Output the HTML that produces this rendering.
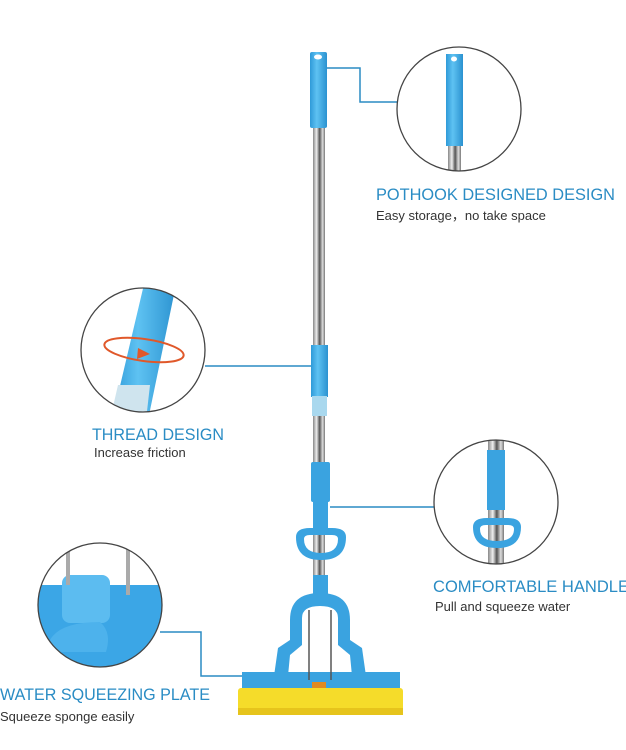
<!DOCTYPE html>
<html><head><meta charset="utf-8"><style>
html,body{margin:0;padding:0;background:#fff;}
svg{display:block;}
.t{font-family:"Liberation Sans",sans-serif;fill:#2a8cc4;font-size:17px;}
.s{font-family:"Liberation Sans",sans-serif;fill:#333;font-size:13px;}
</style></head><body>
<svg width="626" height="750" viewBox="0 0 626 750" xmlns="http://www.w3.org/2000/svg">
<defs>
<linearGradient id="steel" x1="0" x2="1" y1="0" y2="0">
<stop offset="0" stop-color="#888"/><stop offset="0.3" stop-color="#eee"/><stop offset="0.55" stop-color="#555"/><stop offset="0.8" stop-color="#ddd"/><stop offset="1" stop-color="#777"/>
</linearGradient>
<linearGradient id="blue" x1="0" x2="1"><stop offset="0" stop-color="#2f9ad8"/><stop offset="0.4" stop-color="#5ec2f2"/><stop offset="1" stop-color="#2b92d0"/></linearGradient>
<clipPath id="c1"><circle cx="459" cy="109" r="62"/></clipPath>
<clipPath id="c2"><circle cx="143" cy="350" r="62"/></clipPath>
<clipPath id="c3"><circle cx="496" cy="502" r="62"/></clipPath>
<clipPath id="c4"><circle cx="100" cy="605" r="62"/></clipPath>
</defs>
<g stroke="#2a8cc4" stroke-width="1.5" fill="none">
<polyline points="327,68 360,68 360,102 397,102"/>
<line x1="205" y1="366" x2="313" y2="366"/>
<line x1="330" y1="507" x2="434" y2="507"/>
<polyline points="160,632 201,632 201,676 242,676"/>
</g>
<rect x="313" y="120" width="12" height="470" fill="url(#steel)"/>
<rect x="310" y="52" width="17" height="76" rx="2" fill="url(#blue)"/>
<ellipse cx="318" cy="57" rx="4" ry="2.5" fill="#fff"/>
<rect x="311" y="345" width="17" height="52" fill="url(#blue)"/>
<rect x="312" y="396" width="15" height="20" fill="#a9d8ee"/>
<g fill="#3aa3e0">
<rect x="311" y="462" width="19" height="40" rx="2"/>
<rect x="313" y="500" width="15" height="30"/>
<path d="M296,537 Q296,528 310,528 L332,528 Q346,528 346,537 Q346,560 321,560 Q296,560 296,537 Z M304,539 Q304,553 321,553 Q338,553 338,539 Q338,535 332,535 L310,535 Q304,535 304,539Z" fill-rule="evenodd"/>
<rect x="313" y="575" width="15" height="22"/>
<path d="M290,620 Q290,593 320,593 Q350,593 350,620 L350,640 L362,648 L366,676 L352,676 L350,655 L338,645 L338,618 Q338,606 320,606 Q302,606 302,618 L302,645 L290,655 L288,676 L274,676 L278,648 L290,640 Z"/>
<rect x="242" y="672" width="158" height="16"/>
</g>
<line x1="309" y1="610" x2="309" y2="680" stroke="#555" stroke-width="1.5"/>
<line x1="331" y1="610" x2="331" y2="680" stroke="#555" stroke-width="1.5"/>
<rect x="312" y="682" width="14" height="6" fill="#e08a20"/>
<rect x="238" y="688" width="165" height="27" rx="3" fill="#f5dc2a"/>
<rect x="238" y="708" width="165" height="7" fill="#e6c41c"/>
<g clip-path="url(#c1)">
<rect x="448" y="140" width="13" height="40" fill="url(#steel)"/>
<rect x="446" y="54" width="17" height="92" fill="url(#blue)"/>
<ellipse cx="454" cy="59" rx="3" ry="2.5" fill="#fff"/>
</g>
<circle cx="459" cy="109" r="62" fill="none" stroke="#444" stroke-width="1.3"/>
<g clip-path="url(#c2)">
<polygon points="145,280 177,280 148,420 112,420" fill="url(#blue)"/>
<polygon points="118,385 150,385 146,420 110,420" fill="#cfe4ee"/>
<ellipse cx="144" cy="350" rx="40" ry="11" fill="none" stroke="#e0582a" stroke-width="2" transform="rotate(8 144 350)"/>
<polygon points="138,348 150,354 137,359" fill="#e0582a"/>
</g>
<circle cx="143" cy="350" r="62" fill="none" stroke="#444" stroke-width="1.3"/>
<g clip-path="url(#c3)">
<rect x="488" y="430" width="16" height="140" fill="url(#steel)"/>
<rect x="487" y="450" width="18" height="60" fill="#3aa3e0"/>
<path d="M473,527 Q473,518 487,518 L507,518 Q521,518 521,527 Q521,548 497,548 Q473,548 473,527 Z M480,529 Q480,541 497,541 Q514,541 514,529 Q514,525 508,525 L486,525 Q480,525 480,529Z" fill="#3aa3e0" fill-rule="evenodd"/>
</g>
<circle cx="496" cy="502" r="62" fill="none" stroke="#444" stroke-width="1.3"/>
<g clip-path="url(#c4)">
<rect x="30" y="585" width="150" height="90" fill="#3ba6e6"/>
<rect x="62" y="575" width="48" height="48" rx="8" fill="#5cbcf0"/>
<path d="M50,640 Q60,622 100,622 Q112,632 106,652 L55,652 Z" fill="#4db2ec"/>
<rect x="66" y="545" width="4" height="40" fill="#aaa"/>
<rect x="126" y="545" width="4" height="50" fill="#aaa"/>
</g>
<circle cx="100" cy="605" r="62" fill="none" stroke="#444" stroke-width="1.3"/>
<text class="t" x="376" y="200" textLength="239" lengthAdjust="spacingAndGlyphs">POTHOOK DESIGNED DESIGN</text>
<text class="s" x="376" y="220">Easy storage，no take space</text>
<text class="t" x="92" y="440" textLength="132" lengthAdjust="spacingAndGlyphs">THREAD DESIGN</text>
<text class="s" x="94" y="457">Increase friction</text>
<text class="t" x="433" y="592" textLength="196" lengthAdjust="spacingAndGlyphs">COMFORTABLE HANDLE</text>
<text class="s" x="435" y="611">Pull and squeeze water</text>
<text class="t" x="0" y="700" textLength="210" lengthAdjust="spacingAndGlyphs">WATER SQUEEZING PLATE</text>
<text class="s" x="0" y="721">Squeeze sponge easily</text>
</svg>
</body></html>
